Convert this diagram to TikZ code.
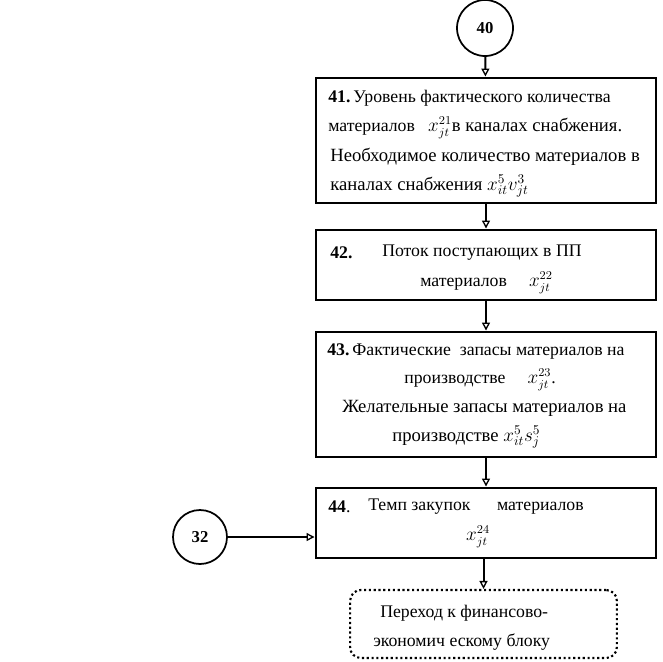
\documentclass[tikz,border=0pt]{standalone}
\usepackage{fontspec}
\setmainfont{Liberation Serif}
\usetikzlibrary{arrows.meta}
\begin{document}
\begin{tikzpicture}[x=0.75pt,y=-0.75pt,
  blk/.style={draw,line width=2.2pt,minimum width=255pt,inner sep=0pt},
  circ/.style={draw,circle,line width=1.3pt,minimum size=42pt,inner sep=0pt,font=\fontsize{12.5}{14}\selectfont\bfseries},
  conn/.style={line width=1.5pt,-{Triangle[open,length=6pt,width=6pt,line width=1pt]}},
  txt/.style={inner sep=0pt,anchor=west,font=\fontsize{13.3}{15}\selectfont},
  txtb/.style={inner sep=0pt,anchor=west,font=\fontsize{14}{16}\selectfont},
  txtc/.style={inner sep=0pt,font=\fontsize{13.3}{15}\selectfont}]
\useasboundingbox (0,0) rectangle (663,661);
\node[circ] (c40) at (485,28) {40};
\node[blk,minimum height=93.75pt] (b41) at (486,140.5) {};
\node[blk,minimum height=52.5pt] (b42) at (486,265) {};
\node[blk,minimum height=93.75pt] (b43) at (486,394.5) {};
\node[blk,minimum height=52.5pt] (b44) at (486,523) {};
\node[circ,minimum size=40.5pt] (c32) at (200,537) {32};
\node[draw,line width=1.6pt,dotted,rounded corners=8pt,minimum width=200pt,minimum height=51pt] (b45) at (483.5,624) {};
% texts 41
\node[txt] (t41a) at (328,98) {\textbf{41.}\,Уровень фактического количества};
\node[txt] (t41b) at (328,128) {материалов \ \ $x^{21}_{jt}$\fontsize{14}{16}\selectfont в каналах снабжения.};
\node[txtb] (t41c) at (330,157) {Необходимое количество материалов в};
\node[txtb] (t41d) at (330,186) {каналах снабжения $x^{5}_{it}v^{3}_{jt}$};
% texts 42
\node[txt] (t42a) at (330,253) {\textbf{42.}};
\node[txt] (t42b) at (382,253) {Поток поступающих в ПП};
\node[txt] (t42c) at (420,283) {материалов \quad $x^{22}_{jt}$};
% texts 43
\node[txt] (t43a) at (327,352) {\textbf{43.}\,Фактические \ запасы материалов на};
\node[txtc] (t43b) at (480,380) {производстве \quad $x^{23}_{jt}$.};
\node[txtb] (t43c) at (342,408) {Желательные запасы материалов на};
\node[txtb] (t43d) at (392,437) {производстве $x^{5}_{it}s^{5}_{j}$};
% texts 44
\node[txt] (t44a) at (328,507) {\textbf{44}.};
\node[txt] (t44b) at (368,507) {Темп закупок \quad\ материалов};
\node[txtc] (t44c) at (478,537) {$x^{24}_{jt}$};
% text 45
\node[txt] (t45a) at (380,613) {Переход к финансово-};
\node[txt] (t45b) at (373,642) {экономич ескому блоку};
% connectors
\draw[conn] (c40) -- (b41);
\draw[conn] (b41) -- (b42);
\draw[conn] (b42) -- (b43);
\draw[conn] (b43) -- (b44);
\draw[conn] (b44.south -| b45.north) -- (b45.north);
\draw[conn] (c32) -- (c32 -| b44.west);
\end{tikzpicture}
\end{document}
